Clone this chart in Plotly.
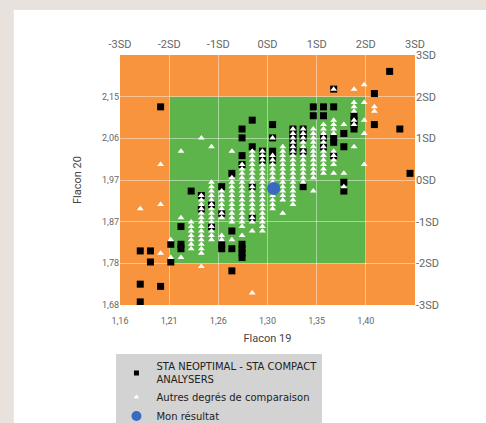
import plotly.graph_objects as go

# ---- axis scale (mean / SD of each flacon) ----
x_mean, x_sd = 1.305, 0.0483
y_mean, y_sd = 1.965, 0.094
sd_steps = [-3, -2, -1, 0, 1, 2, 3]
x_ticktext = ["1,16", "1,21", "1,26", "1,30", "1,35", "1,40", ""]
y_ticktext = ["1,68", "1,78", "1,87", "1,97", "2,06", "2,15", ""]
sd_ticktext = ["-3SD", "-2SD", "-1SD", "0SD", "1SD", "2SD", "3SD"]

# ---- STA NEOPTIMAL - STA COMPACT ANALYSERS (black squares) ----
sq_x = [1.20, 1.18, 1.19, 1.19, 1.18, 1.18, 1.20, 1.425, 1.435, 1.445, 1.41, 1.41,
        1.21, 1.21,
        1.22, 1.22, 1.22,
        1.23,
        1.24, 1.24,
        1.25, 1.25,
        1.26, 1.26, 1.26, 1.26,
        1.27, 1.27, 1.27, 1.27,
        1.28, 1.28, 1.28, 1.28, 1.28, 1.28, 1.28, 1.28,
        1.29, 1.29, 1.29, 1.29,
        1.30, 1.30,
        1.31, 1.31, 1.31, 1.31, 1.31,
        1.33, 1.33, 1.33, 1.33, 1.33, 1.33,
        1.34, 1.34, 1.34, 1.34, 1.34,
        1.35, 1.35,
        1.36, 1.36, 1.36, 1.36,
        1.37, 1.37, 1.37, 1.37, 1.37,
        1.38, 1.38, 1.38, 1.38,
        1.39, 1.39, 1.39, 1.39]
sq_y = [2.13, 1.805, 1.805, 1.78, 1.73, 1.69, 1.725, 2.21, 2.08, 1.98, 2.16, 2.09,
        1.82, 1.78,
        1.86, 1.82, 1.81,
        1.94,
        1.93, 1.90,
        1.91, 1.86,
        1.95, 1.89, 1.82, 1.81,
        1.98, 1.85, 1.81, 1.76,
        2.08, 2.06, 2.02, 2.00, 1.82, 1.81, 1.80, 1.79,
        2.10, 2.04, 1.95, 1.88,
        2.03, 2.01,
        2.09, 2.06, 2.03, 2.02, 2.01,
        2.08, 2.07, 2.06, 2.05, 2.04, 2.03,
        2.08, 2.07, 2.06, 2.03, 1.95,
        2.13, 2.11,
        2.13, 2.11, 2.06, 2.04,
        2.17, 2.13, 2.06, 2.05, 2.02,
        2.07, 2.04, 1.96, 1.94,
        2.11, 2.10, 2.09, 2.08]

# ---- Autres degrés de comparaison (white triangles) ----
tri_x = [1.18, 1.20, 1.20, 1.20, 1.22, 1.24, 1.25, 1.24, 1.29, 1.22,
         1.21, 1.21,
         1.22,
         1.23, 1.23, 1.23, 1.23, 1.23, 1.23, 1.23,
         1.24, 1.24, 1.24, 1.24, 1.24, 1.24, 1.24, 1.24, 1.24, 1.24, 1.24, 1.24, 1.24, 1.24,
         1.25, 1.25, 1.25, 1.25, 1.25, 1.25, 1.25, 1.25, 1.25, 1.25, 1.25, 1.25, 1.25, 1.25,
         1.26, 1.26, 1.26, 1.26, 1.26, 1.26, 1.26, 1.26, 1.26,
         1.27, 1.27, 1.27, 1.27, 1.27, 1.27, 1.27, 1.27, 1.27, 1.27, 1.27, 1.27, 1.27,
         1.28, 1.28, 1.28, 1.28, 1.28, 1.28, 1.28, 1.28, 1.28, 1.28, 1.28, 1.28, 1.28, 1.28, 1.28, 1.28,
         1.29, 1.29, 1.29, 1.29, 1.29, 1.29, 1.29, 1.29, 1.29, 1.29, 1.29, 1.29, 1.29, 1.29, 1.29, 1.29, 1.29, 1.29,
         1.30, 1.30, 1.30, 1.30, 1.30, 1.30, 1.30, 1.30, 1.30, 1.30, 1.30, 1.30, 1.30, 1.30, 1.30, 1.30, 1.30, 1.30, 1.30,
         1.31, 1.31, 1.31, 1.31, 1.31, 1.31, 1.31, 1.31, 1.31, 1.31, 1.31, 1.31, 1.31, 1.31,
         1.32, 1.32, 1.32, 1.32, 1.32, 1.32, 1.32, 1.32, 1.32, 1.32, 1.32, 1.32, 1.32, 1.32,
         1.33, 1.33, 1.33, 1.33, 1.33, 1.33, 1.33, 1.33, 1.33, 1.33, 1.33, 1.33, 1.33, 1.33, 1.33, 1.33, 1.33, 1.33,
         1.34, 1.34, 1.34, 1.34, 1.34, 1.34, 1.34, 1.34, 1.34, 1.34, 1.34, 1.34, 1.34,
         1.35, 1.35, 1.35, 1.35, 1.35, 1.35, 1.35, 1.35, 1.35, 1.35, 1.35, 1.35, 1.35,
         1.36, 1.36, 1.36, 1.36, 1.36, 1.36, 1.36, 1.36, 1.36, 1.36, 1.36, 1.36,
         1.37, 1.37, 1.37, 1.37, 1.37, 1.37, 1.37, 1.37, 1.37, 1.37,
         1.38, 1.38, 1.38,
         1.39, 1.39, 1.39, 1.39, 1.39, 1.39, 1.39,
         1.40, 1.40, 1.40, 1.40, 1.40,
         1.41, 1.41]
tri_y = [1.90, 1.91, 1.80, 2.00, 2.03, 2.06, 2.04, 1.77, 1.71, 1.79,
         1.83, 1.79,
         1.88,
         1.81, 1.82, 1.83, 1.84, 1.85, 1.86, 1.87,
         1.80, 1.81, 1.82, 1.83, 1.84, 1.85, 1.86, 1.87, 1.88, 1.89, 1.90, 1.91, 1.92, 1.93,
         1.83, 1.84, 1.85, 1.86, 1.87, 1.88, 1.89, 1.90, 1.91, 1.92, 1.93, 1.94, 1.95, 1.96,
         1.83, 1.84, 1.88, 1.89, 1.90, 1.91, 1.92, 1.93, 1.94,
         1.83, 1.87, 1.88, 1.89, 1.90, 1.91, 1.92, 1.93, 1.94, 1.95, 1.96, 1.97, 2.03,
         1.84, 1.86, 1.87, 1.88, 1.89, 1.90, 1.91, 1.92, 1.93, 1.94, 1.95, 1.96, 1.97, 1.98, 1.99, 2.00,
         1.85, 1.87, 1.88, 1.89, 1.90, 1.91, 1.92, 1.93, 1.94, 1.95, 1.96, 1.97, 1.98, 1.99, 2.00, 2.01, 2.02, 2.03,
         1.85, 1.86, 1.87, 1.88, 1.89, 1.90, 1.91, 1.92, 1.93, 1.94, 1.95, 1.96, 1.97, 1.98, 1.99, 2.00, 2.01, 2.02, 2.03,
         1.90, 1.91, 1.92, 1.93, 1.94, 1.95, 1.96, 1.97, 1.98, 1.99, 2.00, 2.01, 2.02, 2.06,
         1.89, 1.92, 1.93, 1.94, 1.95, 1.96, 1.97, 1.98, 1.99, 2.00, 2.01, 2.02, 2.03, 2.04,
         1.91, 1.92, 1.93, 1.94, 1.95, 1.96, 1.97, 1.98, 1.99, 2.00, 2.01, 2.02, 2.03, 2.04, 2.05, 2.06, 2.07, 2.08,
         1.96, 1.97, 1.98, 1.99, 2.00, 2.01, 2.02, 2.03, 2.04, 2.05, 2.06, 2.07, 2.08,
         1.94, 1.97, 1.98, 1.99, 2.00, 2.01, 2.02, 2.03, 2.04, 2.05, 2.06, 2.07, 2.08,
         1.98, 1.99, 2.00, 2.01, 2.02, 2.03, 2.04, 2.05, 2.06, 2.07, 2.08, 2.09,
         1.98, 2.00, 2.01, 2.02, 2.03, 2.07, 2.08, 2.09, 2.10, 2.17,
         1.95, 1.98, 2.09,
         2.04, 2.09, 2.10, 2.12, 2.13, 2.14, 2.17,
         2.00, 2.07, 2.10, 2.14, 2.18,
         2.12, 2.13]

# ---- Mon résultat ----
me_x = [1.311]
me_y = [1.946]

# ---- legend labels ----
legend_names = ["STA NEOPTIMAL - STA COMPACT<br>ANALYSERS",
                "Autres degrés de comparaison",
                "Mon résultat"]

# ---- colours ----
ORANGE = "#f8943d"
GREEN = "#5db44a"
PAGE = "#e9e2dc"

x_ticks = [x_mean + k * x_sd for k in sd_steps]
y_ticks = [y_mean + k * y_sd for k in sd_steps]
x_range = [x_ticks[0], x_ticks[-1]]
y_range = [y_ticks[0], y_ticks[-1]]

styles = [dict(symbol="square", color="#000000"),
          dict(symbol="triangle-up", color="#ffffff"),
          dict(symbol="circle", color="#3a69c2")]
plot_sizes = [7, 6, 13]
legend_sizes = [5, 5, 10]
series = [(sq_x, sq_y), (tri_x, tri_y), (me_x, me_y)]

fig = go.Figure()
for (xs, ys), st, sz in zip(series, styles, plot_sizes):
    fig.add_trace(go.Scatter(
        x=xs, y=ys, mode="markers", showlegend=False,
        marker=dict(symbol=st["symbol"], size=sz, color=st["color"], line=dict(width=0)),
        hoverinfo="skip"))
# legend-only entries (smaller legend symbols, as in the reference)
for name, st, sz in zip(legend_names, styles, legend_sizes):
    fig.add_trace(go.Scatter(
        x=[None], y=[None], mode="markers", name=name,
        marker=dict(symbol=st["symbol"], size=sz, color=st["color"], line=dict(width=0)),
        hoverinfo="skip"))
# carrier trace so the top / right SD axes are drawn
fig.add_trace(go.Scatter(x=[], y=[], xaxis="x2", yaxis="y2",
                         showlegend=False, hoverinfo="skip"))

# card background
fig.add_shape(type="rect", xref="paper", yref="paper",
              x0=-0.36, x1=1.6, y0=-0.8, y1=1.18,
              fillcolor="white", line=dict(width=0), layer="below")
# orange outer zone and green +-2SD zone
fig.add_shape(type="rect", xref="x", yref="y",
              x0=x_range[0], x1=x_range[1], y0=y_range[0], y1=y_range[1],
              fillcolor=ORANGE, line=dict(width=0), layer="below")
fig.add_shape(type="rect", xref="x", yref="y",
              x0=x_ticks[1], x1=x_ticks[5], y0=y_ticks[1], y1=y_ticks[5],
              fillcolor=GREEN, line=dict(width=0), layer="below")

FONT = "Roboto, Arial, sans-serif"
tick_font = dict(family=FONT, size=9, color="#666666")
sd_font = dict(family=FONT, size=11, color="#666666")
grid = "rgba(255,255,255,0.45)"

fig.update_layout(
    width=486, height=423,
    margin=dict(l=120, r=71, t=55, b=118, autoexpand=False),
    paper_bgcolor=PAGE, plot_bgcolor=ORANGE,
    font=dict(family=FONT, color="#444444"),
    xaxis=dict(range=x_range, tickvals=x_ticks, ticktext=x_ticktext,
               showgrid=True, gridcolor=grid, gridwidth=1, zeroline=False,
               showline=False, ticks="", tickfont=tick_font, ticklabelstandoff=9,
               automargin=False,
               title=dict(text="Flacon 19", font=dict(size=11, color="#444444"), standoff=9)),
    yaxis=dict(range=y_range, tickvals=y_ticks, ticktext=y_ticktext,
               showgrid=True, gridcolor=grid, gridwidth=1, zeroline=False,
               showline=False, ticks="", tickfont=tick_font, automargin=False,
               title=dict(text="Flacon 20", font=dict(size=11, color="#444444"), standoff=18)),
    xaxis2=dict(range=x_range, tickvals=x_ticks, ticktext=sd_ticktext,
                overlaying="x", side="top", anchor="y2", showgrid=False,
                zeroline=False, showline=False, ticks="", tickfont=sd_font,
                ticklabelstandoff=4, automargin=False),
    yaxis2=dict(range=y_range, tickvals=y_ticks, ticktext=sd_ticktext,
                overlaying="y", side="right", anchor="x2", showgrid=False,
                zeroline=False, showline=False, ticks="", tickfont=sd_font,
                automargin=False),
    showlegend=True,
    legend=dict(x=-0.012, y=-0.194, xanchor="left", yanchor="top",
                bgcolor="#d3d3d3", borderwidth=0, itemwidth=30,
                font=dict(family="DejaVu Sans, Roboto, sans-serif", size=10, color="#222222"),
                tracegroupgap=0),
)

# remove the browser's default 8px body margin so the figure sits at (0, 0)
page_js = ("document.body.style.margin='0px';"
           "document.body.style.background='" + PAGE + "';")
fig.write_html("out.html", post_script=page_js, config={"displayModeBar": False})
